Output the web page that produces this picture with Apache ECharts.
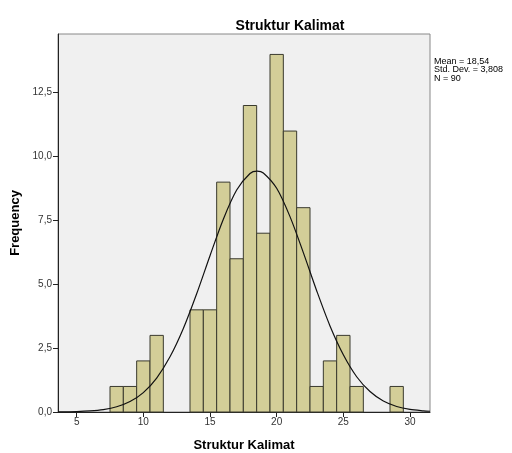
<!DOCTYPE html>
<html><head><meta charset="utf-8">
<script src="https://cdn.jsdelivr.net/npm/echarts@6/dist/echarts.min.js"></script>
<style>html,body{margin:0;padding:0;background:#fff}#c{width:512px;height:453px}</style>
</head><body><div id="c"></div>
<script>
// Histogram bins (centre value) and frequencies
const binCenters = [8, 9, 10, 11, 14, 15, 16, 17, 18, 19, 20, 21, 22, 23, 24, 25, 26, 29];
const frequencies = [1, 1, 2, 3, 4, 4, 9, 6, 12, 7, 14, 11, 8, 1, 2, 3, 1, 1];
// Fitted normal curve points (Mean 18,54; SD 3,808; N 90)
const curveX = [3.6, 5, 6, 7, 8, 9, 10, 11, 12, 13, 14, 15, 16, 17, 18, 18.54, 19, 20, 21, 22, 23, 24, 25, 26, 27, 28, 29, 30, 31, 31.5];
const curveY = [0.004, 0.017, 0.042, 0.096, 0.205, 0.41, 0.76, 1.33, 2.16, 3.27, 4.63, 6.12, 7.55, 8.69, 9.34, 9.43, 9.36, 8.76, 7.65, 6.24, 4.75, 3.37, 2.24, 1.38, 0.80, 0.43, 0.217, 0.10, 0.045, 0.029];
const xTicks = [5, 10, 15, 20, 25, 30];
const yTicks = [0, 2.5, 5, 7.5, 10, 12.5];
const statsLines = ['Mean = 18,54', 'Std. Dev. = 3,808', 'N = 90'];

const chart = echarts.init(document.getElementById('c'));
const font = 'Liberation Sans, Arial, sans-serif';
chart.setOption({
  animation: false,
  title: {
    text: 'Struktur Kalimat', left: 285, top: 14, textAlign: 'center',
    textStyle: {fontFamily: font, fontSize: 14, fontWeight: 'bold', color: '#000'}
  },
  graphic: statsLines.map((t, i) => ({
    type: 'text', left: 434, top: 57 + i * 8.3,
    style: {text: t, fontFamily: font, fontSize: 9, fill: '#000'}
  })),
  grid: {left: 58, right: 82, top: 34, bottom: 41, outerBoundsMode: 'none', show: true, backgroundColor: '#f0f0f0', borderColor: '#888', borderWidth: 1},
  xAxis: {
    type: 'value', min: 3.6, max: 31.5,
    name: 'Struktur Kalimat', nameLocation: 'middle', nameGap: 27,
    nameTextStyle: {fontFamily: font, fontSize: 13, fontWeight: 'bold', color: '#000'},
    axisLine: {show: true, lineStyle: {color: '#222'}},
    axisTick: {show: true, customValues: xTicks, length: 5, lineStyle: {color: '#222'}},
    axisLabel: {customValues: xTicks, fontFamily: font, fontSize: 10, color: '#333', margin: 5},
    splitLine: {show: false}
  },
  yAxis: {
    type: 'value', min: 0, max: 14.8,
    name: 'Frequency', nameLocation: 'middle', nameGap: 31,
    nameTextStyle: {fontFamily: font, fontSize: 13, fontWeight: 'bold', color: '#000'},
    axisLine: {show: true, lineStyle: {color: '#222'}},
    axisTick: {show: true, customValues: yTicks, length: 5, lineStyle: {color: '#222'}},
    axisLabel: {customValues: yTicks, fontFamily: font, fontSize: 10, color: '#333', margin: 6,
      formatter: v => v.toFixed(1).replace('.', ',')},
    splitLine: {show: false}
  },
  series: [
    {
      type: 'custom',
      data: binCenters.map((c, i) => [c, frequencies[i]]),
      renderItem: (params, api) => {
        const x = api.value(0), y = api.value(1);
        const p0 = api.coord([x - 0.5, y]);
        const p1 = api.coord([x + 0.5, 0]);
        return {
          type: 'rect',
          shape: {x: p0[0], y: p0[1], width: p1[0] - p0[0], height: p1[1] - p0[1]},
          style: {fill: '#d3ce98', stroke: '#3a3a2e', lineWidth: 1}
        };
      },
      z: 2
    },
    {
      type: 'line', smooth: 0.3, showSymbol: false,
      data: curveX.map((x, i) => [x, curveY[i]]),
      lineStyle: {color: '#111', width: 1.2},
      z: 3
    }
  ]
});
</script></body></html>
